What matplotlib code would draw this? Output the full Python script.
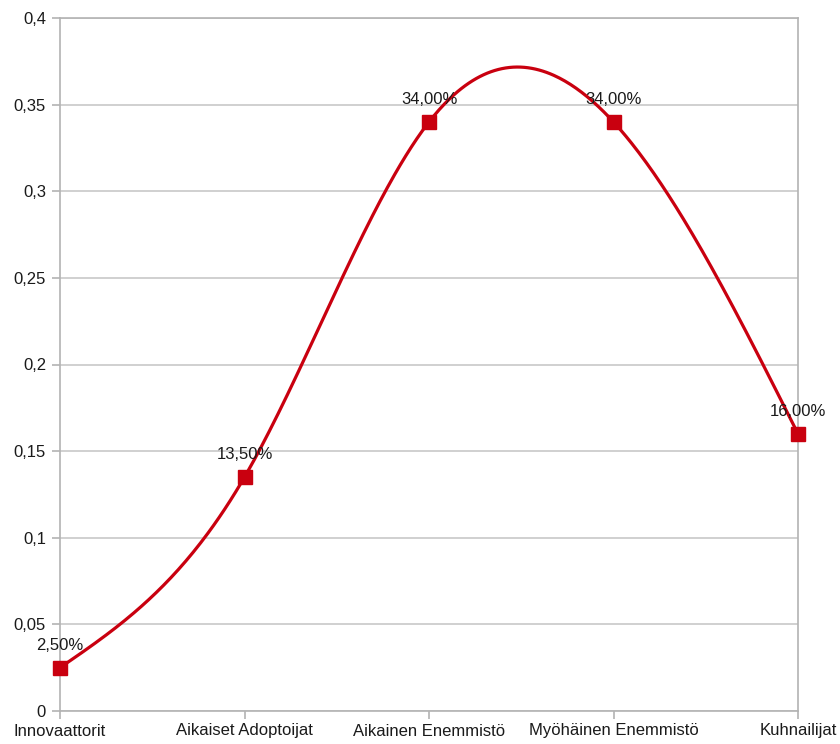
import numpy as np
import matplotlib.pyplot as plt

plt.rcParams['font.family'] = ['Liberation Sans', 'DejaVu Sans']

# data
kategoriat = ['Innovaattorit', 'Aikaiset Adoptoijat', 'Aikainen Enemmistö',
              'Myöhäinen Enemmistö', 'Kuhnailijat']
osuudet = [0.025, 0.135, 0.34, 0.34, 0.16]
yticks = [0, 0.05, 0.1, 0.15, 0.2, 0.25, 0.3, 0.35, 0.4]


def natural_spline(x, y, n=400):
    # luonnollinen kuutiosplini viivan piirtämiseen
    x = np.asarray(x, float)
    y = np.asarray(y, float)
    k = len(x)
    h = np.diff(x)
    A = np.zeros((k, k))
    b = np.zeros(k)
    A[0, 0] = A[-1, -1] = 1
    for i in range(1, k - 1):
        A[i, i - 1] = h[i - 1]
        A[i, i] = 2 * (h[i - 1] + h[i])
        A[i, i + 1] = h[i]
        b[i] = 6 * ((y[i + 1] - y[i]) / h[i] - (y[i] - y[i - 1]) / h[i - 1])
    M = np.linalg.solve(A, b)
    xs = np.linspace(x[0], x[-1], n)
    idx = np.clip(np.searchsorted(x, xs) - 1, 0, k - 2)
    x0, x1 = x[idx], x[idx + 1]
    hh = x1 - x0
    ys = (M[idx] * (x1 - xs) ** 3 / (6 * hh) + M[idx + 1] * (xs - x0) ** 3 / (6 * hh)
          + (y[idx] / hh - M[idx] * hh / 6) * (x1 - xs)
          + (y[idx + 1] / hh - M[idx + 1] * hh / 6) * (xs - x0))
    return xs, ys


fig = plt.figure(figsize=(8.4, 7.44), dpi=100)
ax = fig.add_axes([60 / 840, 1 - 711 / 744, 738 / 840, 693 / 744])

x = np.arange(len(kategoriat))
xs, ys = natural_spline(x, osuudet)
punainen = '#c9000f'
ax.plot(xs, ys, color=punainen, lw=2.3, zorder=3, solid_capstyle='round', clip_on=False)
ax.plot(x, osuudet, 's', color=punainen, ms=9.5, zorder=4, clip_on=False)

for i, v in zip(x, osuudet):
    teksti = ('%.2f%%' % (v * 100)).replace('.', ',')
    ax.annotate(teksti, (i, v), xytext=(0, 16), textcoords='offset points',
                ha='center', va='center', fontsize=12, color='#1a1a1a', zorder=5)

ax.set_xlim(0, len(kategoriat) - 1)
ax.set_ylim(0, 0.4)
ax.set_xticks(x)
ax.set_xticklabels(kategoriat)
ax.set_yticks(yticks)
ax.set_yticklabels([('%g' % t).replace('.', ',') for t in yticks])
ax.yaxis.grid(True, color='#c8c8c8', lw=1.2)
ax.set_axisbelow(True)
for s in ax.spines.values():
    s.set_color('#b3b3b3')
    s.set_linewidth(1.2)
ax.tick_params(axis='both', colors='#b3b3b3', labelcolor='#1a1a1a',
               labelsize=12, length=6, width=1.2, direction='out')
ax.tick_params(axis='y', pad=4)
ax.tick_params(axis='x', pad=3)

fig.savefig('out.png', dpi=100)
